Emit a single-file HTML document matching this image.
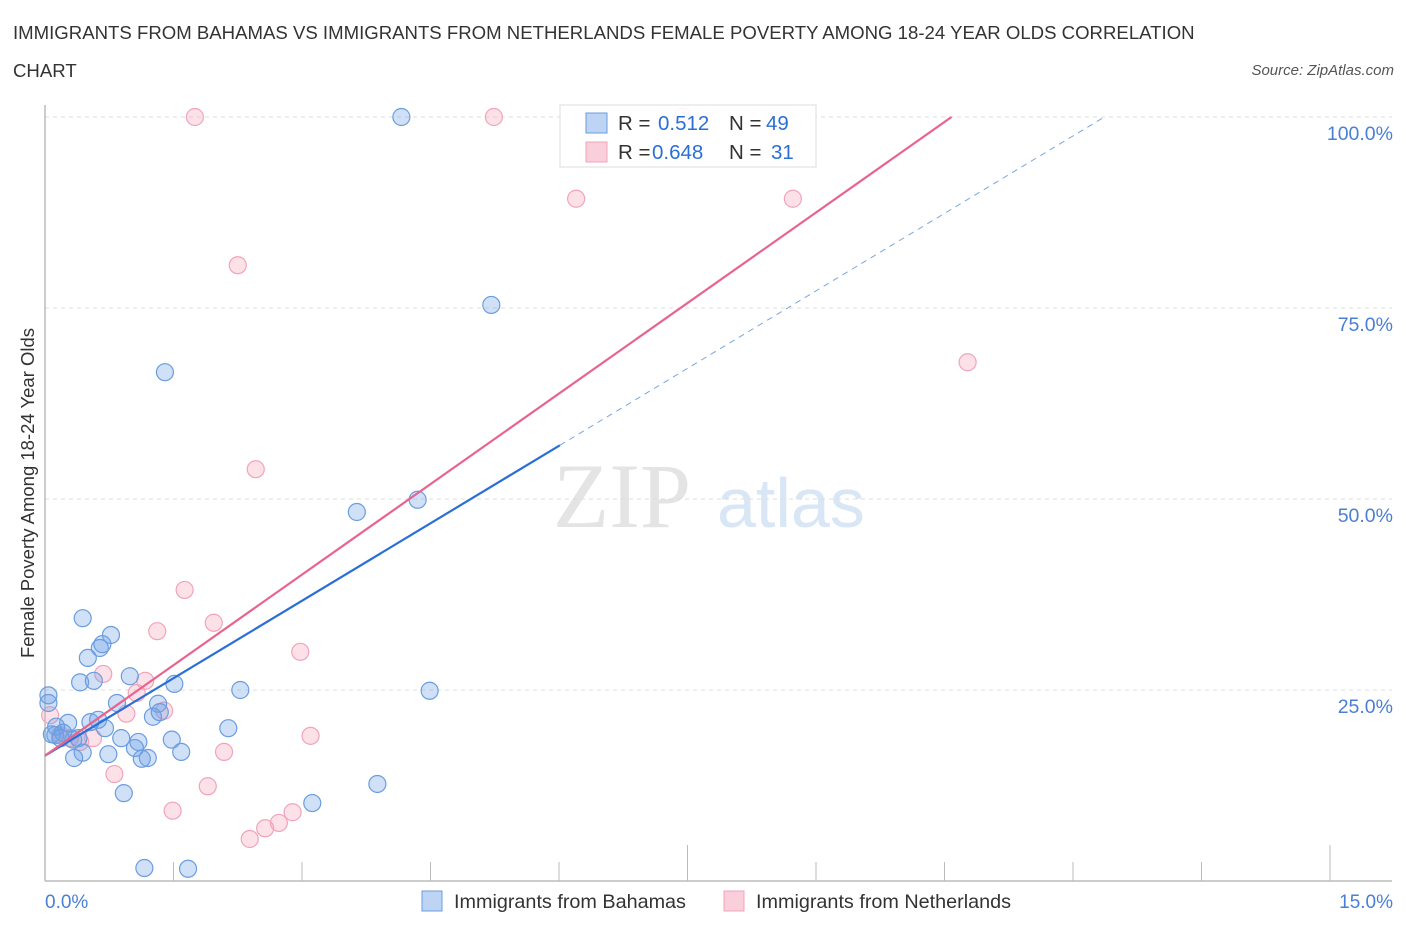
<!DOCTYPE html>
<html><head><meta charset="utf-8">
<style>
body{margin:0;background:#fff;font-family:"Liberation Sans",sans-serif;}
#wrap{position:relative;width:1406px;height:930px;overflow:hidden;}
.t{position:absolute;white-space:nowrap;}
</style></head>
<body><div id="wrap">
<div class="t" style="left:13px;top:14px;font-size:18.6px;color:#333;line-height:38px;">IMMIGRANTS FROM BAHAMAS VS IMMIGRANTS FROM NETHERLANDS FEMALE POVERTY AMONG 18-24 YEAR OLDS CORRELATION<br>CHART</div>
<div class="t" style="right:12px;top:62px;font-size:15px;color:#555;font-style:italic;">Source: ZipAtlas.com</div>
<svg id="svg" width="1406" height="930" style="position:absolute;left:0;top:0"></svg>
</div>
<script>
const blueX=[4.16,5.21,1.40,3.64,4.35,0.44,0.77,0.67,0.64,0.50,0.41,0.57,0.99,1.51,2.28,4.49,0.04,0.04,0.84,1.32,1.26,1.34,0.53,0.62,0.27,0.70,0.13,2.14,0.12,0.21,0.33,0.39,0.89,1.09,1.48,1.05,0.74,0.44,0.34,1.13,1.20,1.59,0.92,3.88,3.12,1.16,1.67,0.08,0.18];
const blueY=[100,75.4,66.6,48.3,49.9,34.4,32.2,31.0,30.5,29.2,26.0,26.2,26.8,25.8,25.0,24.9,24.3,23.3,23.3,23.2,21.5,22.1,20.8,21.1,20.7,20.0,20.2,20.0,19.1,19.4,18.5,18.7,18.7,18.2,18.5,17.4,16.6,16.8,16.1,16.0,16.1,16.9,11.5,12.7,10.2,1.7,1.6,19.2,18.7];
const pinkX=[1.75,5.24,7.44,6.20,8.73,2.25,10.77,2.46,1.63,1.31,1.97,2.98,0.68,1.17,3.10,1.39,1.07,0.95,0.56,0.41,2.09,0.81,1.90,1.49,2.89,2.73,2.57,2.39,0.06,0.18,0.29];
const pinkY=[100,100,100,89.3,89.3,80.6,67.9,53.9,38.1,32.7,33.8,30.0,27.1,26.2,19.0,22.3,24.6,21.9,18.7,18.2,16.9,14.0,12.4,9.2,9.0,7.6,6.9,5.5,21.7,19.1,18.7];
const blueTrend=[16.4,6.76];
const pinkTrend=[16.4,7.9];
const yTicks=[25,50,75,100];
const yTickLabels=["25.0%","50.0%","75.0%","100.0%"];
const xTicks=[0,1.5,3,4.5,6,7.5,9,10.5,12,13.5,15];

const X0=45,X1=1330,Y0=881,Y100=117;
const sx=v=>X0+(X1-X0)*v/15;
const sy=v=>Y0-(Y0-Y100)*v/100;
const svg=document.getElementById('svg');
const NS='http://www.w3.org/2000/svg';
function mk(tag,attrs){const e=document.createElementNS(NS,tag);for(const k in attrs)e.setAttribute(k,attrs[k]);svg.appendChild(e);return e;}

let w=mk('text',{x:553,y:527,'font-family':'Liberation Serif, serif','font-size':92,fill:'#e4e4e4'});w.textContent='ZIP';


w=mk('text',{x:717,y:527,'font-family':'Liberation Sans, sans-serif','font-size':70,fill:'#d8e6f6'});w.textContent='atlas';



yTicks.forEach((v,i)=>{
 const g=mk('line',{x1:X0,x2:1392,y1:sy(v),y2:sy(v),stroke:'#ddd','stroke-dasharray':'4,4'});
 
 
 const t=mk('text',{x:1393,y:sy(v)+23,'text-anchor':'end','font-size':19.5,fill:'#4a7fd4','font-family':'Liberation Sans, sans-serif'});
 t.textContent=yTickLabels[i];
 
 
});
xTicks.forEach((v,i)=>{
 if(i==0)return;
 const major=(i==5||i==10);
 const l=mk('line',{x1:sx(v),x2:sx(v),y1:major?845:862,y2:Y0,stroke:'#bbb','stroke-width':1});
 
 
});
let a=mk('line',{x1:X0,x2:1392,y1:Y0,y2:Y0,stroke:'#bbb','stroke-width':1.5});


a=mk('line',{x1:X0,x2:X0,y1:105,y2:Y0,stroke:'#bbb','stroke-width':1.5});



function dots(xs,ys,fill,stroke,name){
 xs.forEach((x,i)=>{
  const c=mk('circle',{cx:sx(x),cy:sy(ys[i]),r:8.5,fill:fill,stroke:stroke,'stroke-width':1.2});
  
  
 });
}
dots(pinkX,pinkY,'rgba(246,168,192,0.35)','#f2a3ba','point-netherlands');
dots(blueX,blueY,'rgba(110,160,230,0.33)','#6a9de0','point-bahamas');

const bEnd=(100-blueTrend[0])/blueTrend[1];
let l=mk('line',{x1:sx(0),y1:sy(blueTrend[0]),x2:sx(6.01),y2:sy(blueTrend[0]+blueTrend[1]*6.01),stroke:'#2a6fd6','stroke-width':2.2});


l=mk('line',{x1:sx(6.01),y1:sy(blueTrend[0]+blueTrend[1]*6.01),x2:sx(bEnd),y2:sy(100),stroke:'#7aa6e0','stroke-width':1,'stroke-dasharray':'6,5'});


const pEnd=(100-pinkTrend[0])/pinkTrend[1];
l=mk('line',{x1:sx(0),y1:sy(pinkTrend[0]),x2:sx(pEnd),y2:sy(100),stroke:'#e8648e','stroke-width':2.2});



let t=mk('text',{x:45,y:908,'font-size':19,fill:'#4a7fd4','font-family':'Liberation Sans, sans-serif'});t.textContent='0.0%';


t=mk('text',{x:1393,y:908,'text-anchor':'end','font-size':19,fill:'#4a7fd4','font-family':'Liberation Sans, sans-serif'});t.textContent='15.0%';


t=mk('text',{x:0,y:0,'font-size':18.5,fill:'#333','font-family':'Liberation Sans, sans-serif','text-anchor':'middle',transform:'translate(34,493) rotate(-90)'});t.textContent='Female Poverty Among 18-24 Year Olds';



let r=mk('rect',{x:560,y:105,width:256,height:62,fill:'rgba(255,255,255,0.9)',stroke:'#ddd'});


const rows=[['rgba(110,160,230,0.45)','#6a9de0','0.512','49',123],['rgba(246,168,192,0.55)','#f2a3ba','0.648','31',152]];
rows.forEach(([f,s,rv,nv,y])=>{
 const b=mk('rect',{x:586,y:y-10,width:21,height:20,fill:f,stroke:s});
 
 
 const tx=mk('text',{x:618,y:y+7,'font-size':20.5,fill:'#333','font-family':'Liberation Sans, sans-serif'});
 tx.innerHTML='R = <tspan fill="#2a6fd6" x="'+(rv=='0.512'?658:652)+'">'+rv+'</tspan><tspan x="729" fill="#333">N = </tspan><tspan fill="#2a6fd6" x="'+(nv=='49'?766:771)+'">'+nv+'</tspan>';
 
 
});

[['rgba(110,160,230,0.45)','#6a9de0','Immigrants from Bahamas',422],['rgba(246,168,192,0.55)','#f2a3ba','Immigrants from Netherlands',724]].forEach(([f,s,txt,x])=>{
 const b=mk('rect',{x:x,y:891,width:20,height:20,fill:f,stroke:s});
 
 
 const tt=mk('text',{x:x+32,y:908,'font-size':19.8,fill:'#333','font-family':'Liberation Sans, sans-serif'});tt.textContent=txt;
 
 
});
</script>
</body></html>
